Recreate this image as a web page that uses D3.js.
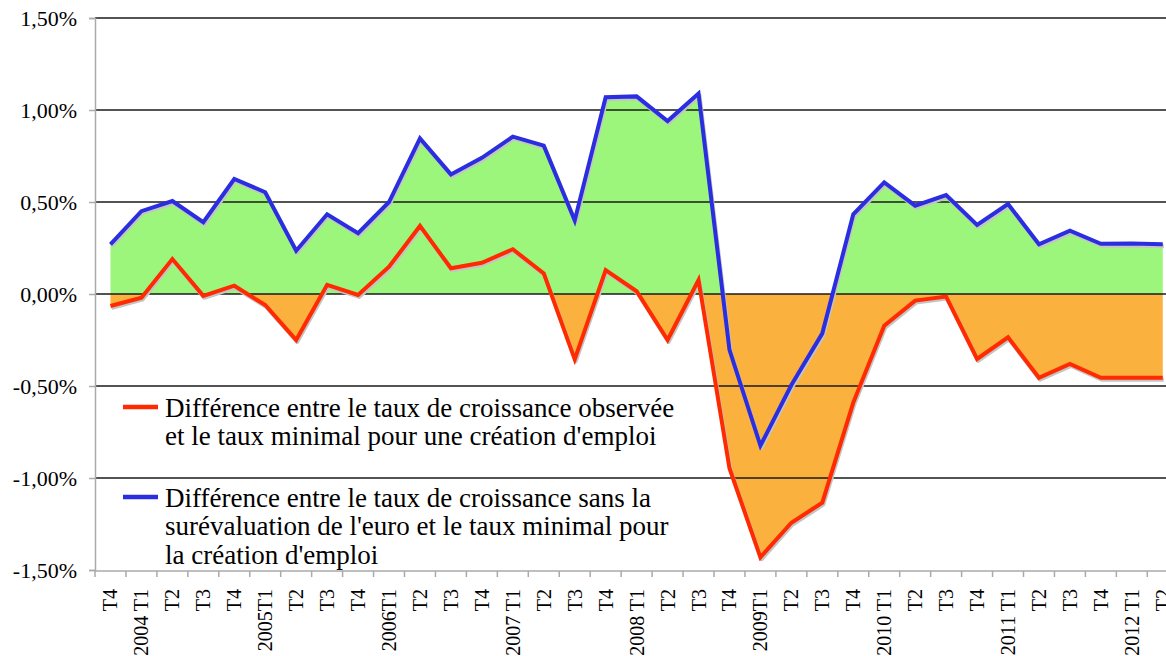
<!DOCTYPE html>
<html>
<head>
<meta charset="utf-8">
<script src="https://cdn.jsdelivr.net/npm/d3@7"></script>
<style>
  body { margin: 0; background: #fff; }
  svg { display: block; }
  text { font-family: "Liberation Serif", "Times New Roman", serif; fill: #000; }
</style>
</head>
<body>
<div id="chart"></div>
<script>
// quarters, Excel-style labels (year only on T1)
var quarters = ["T4","2004 T1","T2","T3","T4","2005T1","T2","T3","T4","2006T1","T2","T3","T4",
    "2007 T1","T2","T3","T4","2008 T1","T2","T3","T4","2009T1","T2","T3","T4",
    "2010 T1","T2","T3","T4","2011 T1","T2","T3","T4","2012 T1","T2"];

// observed growth minus minimal rate for job creation (%)
var observed = [-0.065,-0.02,0.19,-0.01,0.045,-0.06,-0.25,0.05,-0.005,0.148,0.37,0.14,0.17,
    0.243,0.112,-0.355,0.13,0.015,-0.25,0.076,-0.947,-1.431,-1.243,-1.134,-0.59,
    -0.172,-0.036,-0.014,-0.353,-0.235,-0.455,-0.38,-0.455,-0.455,-0.455];

// growth without euro overvaluation minus minimal rate (%)
var withoutEuro = [0.27,0.45,0.505,0.39,0.625,0.553,0.235,0.433,0.33,0.50,0.846,0.65,0.74,
    0.855,0.806,0.40,1.069,1.074,0.94,1.09,-0.304,-0.824,-0.495,-0.214,0.433,
    0.607,0.48,0.538,0.375,0.489,0.27,0.344,0.273,0.275,0.27];

var yTicks = [-1.5,-1,-0.5,0,0.5,1,1.5];

var legendLabels = [
    ["Différence entre le taux de croissance observée", "et le taux minimal pour une création d'emploi"],
    ["Différence entre le taux de croissance sans la", "surévaluation de l'euro et le taux minimal pour", "la création d'emploi"]
];

var W = 1166, H = 656;
var plotLeft = 95, plotTop = 18, plotBottom = 570, step = 30.95;

var svg = d3.select("#chart").append("svg")
    .attr("width", W).attr("height", H);

var x = d3.scalePoint()
    .domain(d3.range(quarters.length))
    .range([plotLeft, plotLeft + step * quarters.length])
    .padding(0.5);

var y = d3.scaleLinear().domain([-1.5, 1.5]).range([plotBottom, plotTop]);

var fmt = function(v){ return v.toFixed(2).replace(".", ",") + "%"; };

// clip regions above / below zero
var defs = svg.append("defs");
defs.append("clipPath").attr("id","above").append("rect")
    .attr("x", plotLeft).attr("y", 0).attr("width", W).attr("height", y(0));
defs.append("clipPath").attr("id","below").append("rect")
    .attr("x", plotLeft).attr("y", y(0)).attr("width", W).attr("height", H - y(0));

var area = function(vals){
    return d3.area()
        .x(function(d,i){ return x(i); })
        .y0(y(0))
        .y1(function(d){ return y(d); })(vals);
};

svg.append("path").attr("d", area(withoutEuro))
    .attr("fill", "#9bf67b").attr("clip-path", "url(#above)");
svg.append("path").attr("d", area(observed))
    .attr("fill", "#fbb13d").attr("clip-path", "url(#below)");

// gridlines
svg.append("g").selectAll("line")
    .data(yTicks.filter(function(d){ return d !== -1.5; }))
    .enter().append("line")
    .attr("x1", plotLeft).attr("x2", W)
    .attr("y1", function(d){ return y(d); })
    .attr("y2", function(d){ return y(d); })
    .attr("stroke", "#1a1a1a").attr("stroke-width", 1.6);

// y axis
var yAxis = svg.append("g")
    .attr("transform", "translate(" + plotLeft + ",0)")
    .call(d3.axisLeft(y).tickValues(yTicks).tickFormat(fmt).tickSize(6).tickPadding(12));
yAxis.select(".domain").attr("stroke", "#aaa").attr("stroke-width", 1.5);
yAxis.selectAll(".tick line").attr("stroke", "#aaa").attr("stroke-width", 1.5);
yAxis.selectAll(".tick text")
    .attr("font-size", "22px").attr("font-family", "Liberation Serif").attr("dy", "0.32em");

// x axis: ticks on category boundaries
var xg = svg.append("g");
xg.append("line")
    .attr("x1", plotLeft).attr("x2", W)
    .attr("y1", plotBottom + 1).attr("y2", plotBottom + 1)
    .attr("stroke", "#aaa").attr("stroke-width", 1.5);
xg.selectAll(".xt")
    .data(d3.range(quarters.length + 1))
    .enter().append("line")
    .attr("x1", function(i){ return x(0) - step / 2 + i * step; })
    .attr("x2", function(i){ return x(0) - step / 2 + i * step; })
    .attr("y1", plotBottom + 1).attr("y2", plotBottom + 7)
    .attr("stroke", "#aaa").attr("stroke-width", 1.5);
xg.selectAll(".xl")
    .data(quarters)
    .enter().append("text")
    .attr("transform", function(d,i){ return "translate(" + (x(i) + 7) + "," + 589 + ") rotate(-90)"; })
    .attr("text-anchor", "end")
    .attr("font-size", "20px")
    .text(function(d){ return d; });

// lines with soft grey shadow
var line = d3.line()
    .x(function(d,i){ return x(i); })
    .y(function(d){ return y(d); });

var series = [[withoutEuro, "#2a2ee0"], [observed, "#ff2a00"]];
series.forEach(function(s){
    svg.append("path").attr("d", line(s[0]))
        .attr("transform", "translate(1,2)")
        .attr("fill", "none").attr("stroke", "#c4c4c4").attr("stroke-width", 4)
        .attr("stroke-linejoin", "round");
});
series.forEach(function(s){
    svg.append("path").attr("d", line(s[0]))
        .attr("fill", "none").attr("stroke", s[1]).attr("stroke-width", 4);
});

// legend
var legend = [
    { color: "#ff2a00", y: 407, lines: legendLabels[0] },
    { color: "#2a2ee0", y: 497, lines: legendLabels[1] }
];
legend.forEach(function(l){
    svg.append("line")
        .attr("x1", 123).attr("x2", 158)
        .attr("y1", l.y).attr("y2", l.y)
        .attr("stroke", l.color).attr("stroke-width", 4.5);
    svg.append("text")
        .attr("x", 165).attr("y", l.y + 10)
        .attr("font-size", "27px")
        .selectAll("tspan")
        .data(l.lines)
        .enter().append("tspan")
        .attr("x", 165)
        .attr("dy", function(d,i){ return i === 0 ? 0 : 28.3; })
        .text(function(d){ return d; });
});
</script>
</body>
</html>
